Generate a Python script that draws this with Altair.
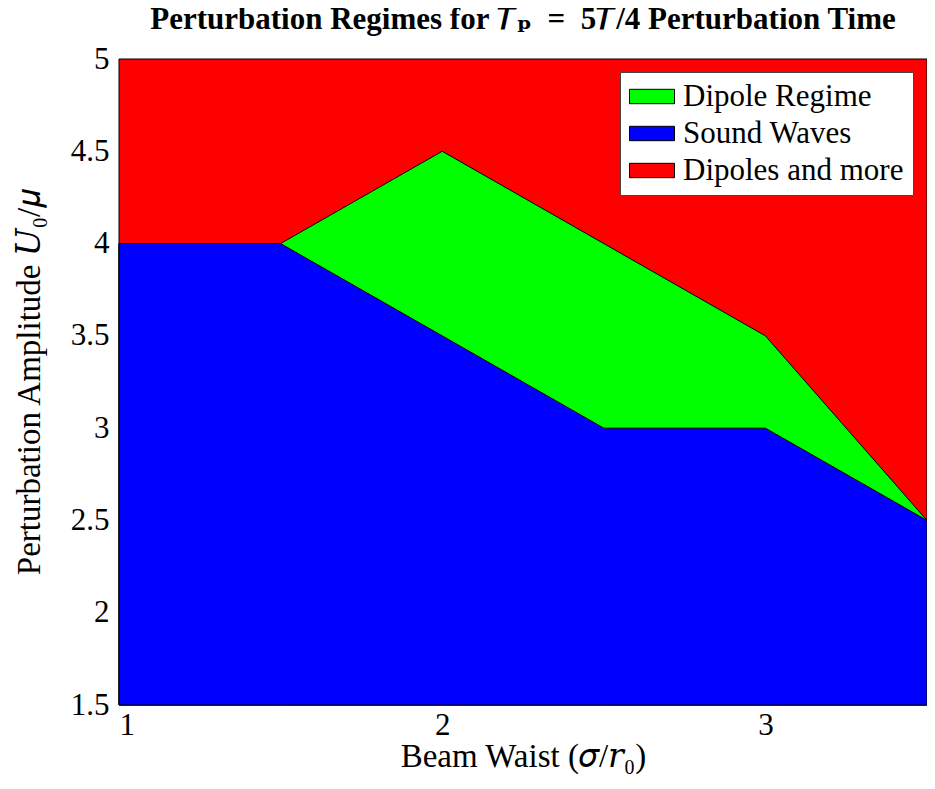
import altair as alt
import pandas as pd

# Data
beam_waist = [1, 1.5, 2, 2.5, 3, 3.5]
sound_top = [4, 4, 3.5, 3, 3, 2.5]
dipole_top = [4, 4, 4.5, 4, 3.5, 2.5]
more_top = [5, 5, 5, 5, 5, 5]
y_floor = 1.5

regimes = ["Dipole Regime", "Sound Waves", "Dipoles and more"]
colors = ["#00ff00", "#0000ff", "#ff0000"]

rows = []
for name, tops in [("Dipoles and more", more_top), ("Dipole Regime", dipole_top), ("Sound Waves", sound_top)]:
    for xv, yv in zip(beam_waist, tops):
        rows.append({"regime": name, "x": xv, "y": yv, "y2": y_floor})
df = pd.DataFrame(rows)

FONT = "Liberation Serif, DejaVu Serif, serif"
FS = 31
TS = 33

xscale = alt.Scale(domain=[1, 3.5], nice=False, zero=False)
yscale = alt.Scale(domain=[1.5, 5], nice=False, zero=False)
cscale = alt.Scale(domain=regimes, range=colors)

def layer(name):
    return alt.Chart(df).transform_filter(alt.datum.regime == name).mark_area(
        stroke="black", strokeWidth=1, opacity=1, interpolate="linear"
    ).encode(
        x=alt.X("x:Q", scale=xscale,
                axis=alt.Axis(values=[1, 2, 3], format="~g", title="Beam Waist (𝜎/𝑟₀)")),
        y=alt.Y("y:Q", scale=yscale, stack=None,
                axis=alt.Axis(values=[1.5, 2, 2.5, 3, 3.5, 4, 4.5, 5], format="~g",
                              title="Perturbation Amplitude 𝑈₀/𝜇")),
        y2="y2:Q",
        color=alt.Color("regime:N", scale=cscale,
                        legend=alt.Legend(title=None, orient="none", legendX=501, legendY=13)),
    )

chart = alt.layer(
    layer("Dipoles and more"), layer("Dipole Regime"), layer("Sound Waves")
).properties(
    width=808, height=646,
    title=alt.TitleParams("Perturbation Regimes for 𝑇ₚ\u2002=\u20025𝑇/4 Perturbation Time",
                          font=FONT, fontSize=31, fontWeight="bold", anchor="middle",
                          offset=7, color="black"),
    autosize=alt.AutoSizeParams(type="none"),
    padding={"left": 111, "top": 51, "right": 0, "bottom": 73},
).configure_view(stroke=None).configure_axis(
    grid=False, domain=False, ticks=False,
    labelFont=FONT, labelFontSize=FS, labelColor="black",
    titleFont=FONT, titleFontSize=TS, titleColor="black", titleFontWeight="normal",
).configure_axisY(labelPadding=10, titlePadding=24).configure_axisX(
    labelPadding=5, titlePadding=0
).configure_legend(
    labelFont=FONT, labelFontSize=FS, labelColor="black", labelLimit=0,
    symbolType="M-1,-0.48L2,-0.48L2,0.48L-1,0.48Z", symbolSize=900,
    symbolStrokeColor="black", symbolStrokeWidth=1, symbolOpacity=1,
    fillColor="white", strokeColor="#444444", padding=9, rowPadding=5,
    labelOffset=23, cornerRadius=0,
)

chart.save("out.html", embed_options={"renderer": "svg", "actions": False})
